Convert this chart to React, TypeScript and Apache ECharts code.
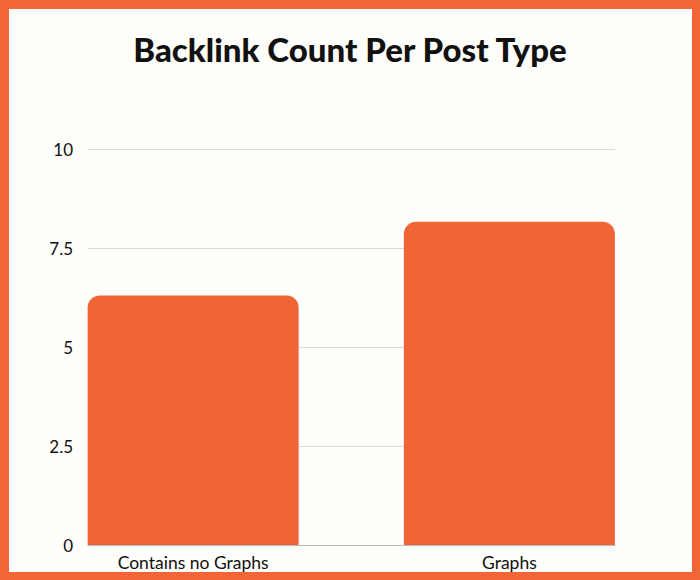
import React, { useEffect, useRef } from "react";
import * as echarts from "echarts";

const categories = ["Contains no Graphs", "Graphs"];
const values = [6.3, 8.16];
const yTicks = [0, 2.5, 5, 7.5, 10];

const ORANGE = "#F26535";

export default function App() {
  const ref = useRef<HTMLDivElement>(null);
  useEffect(() => {
    if (!ref.current) return;
    const chart = echarts.init(ref.current, undefined, { renderer: "svg" });
    chart.setOption({
      animation: false,
      backgroundColor: ORANGE,
      graphic: [
        {
          type: "rect",
          z: -10,
          silent: true,
          shape: { x: 9, y: 9, width: 683, height: 563 },
          style: { fill: "#FEFEFB" },
        },
      ],
      title: {
        text: "Backlink Count Per Post Type",
        left: "center",
        top: 27,
        textStyle: {
          fontFamily: "Lato",
          fontWeight: 900,
          fontSize: 33,
          color: "#111111",
        },
      },
      grid: [
        { left: 88, right: 85, top: 149, bottom: 35 },
        { left: 35, right: 32.5, top: 149, bottom: 35 },
      ],
      xAxis: [
        {
          type: "category",
          gridIndex: 0,
          data: categories,
          axisLine: { show: true, lineStyle: { color: "#BBBBBB", width: 1 } },
          axisTick: { show: false },
          axisLabel: { show: false },
        },
        {
          type: "category",
          gridIndex: 1,
          data: categories,
          axisLine: { show: false },
          axisTick: { show: false },
          axisLabel: {
            margin: 8,
            fontFamily: "Lato",
            fontSize: 17.5,
            color: "#111111",
          },
        },
      ],
      yAxis: [
        {
          type: "value",
          gridIndex: 0,
          min: yTicks[0],
          max: yTicks[yTicks.length - 1],
          interval: 2.5,
          axisLine: { show: false },
          axisTick: { show: false },
          splitLine: { lineStyle: { color: "#DADADA", width: 1 } },
          axisLabel: {
            margin: 15,
            fontFamily: "Lato",
            fontSize: 17,
            color: "#111111",
          },
        },
        {
          type: "value",
          gridIndex: 1,
          min: yTicks[0],
          max: yTicks[yTicks.length - 1],
          interval: 2.5,
          show: false,
          splitLine: { show: false },
        },
      ],
      series: [
        {
          type: "bar",
          xAxisIndex: 1,
          yAxisIndex: 1,
          data: values,
          barWidth: 211,
          itemStyle: { color: "#F16436", borderRadius: [12, 12, 0, 0] },
          z: 3,
        },
      ],
    });
    return () => chart.dispose();
  }, []);
  return (
    <div
      ref={ref}
      style={{ position: "absolute", left: 0, top: 0, width: 700, height: 580 }}
    />
  );
}
